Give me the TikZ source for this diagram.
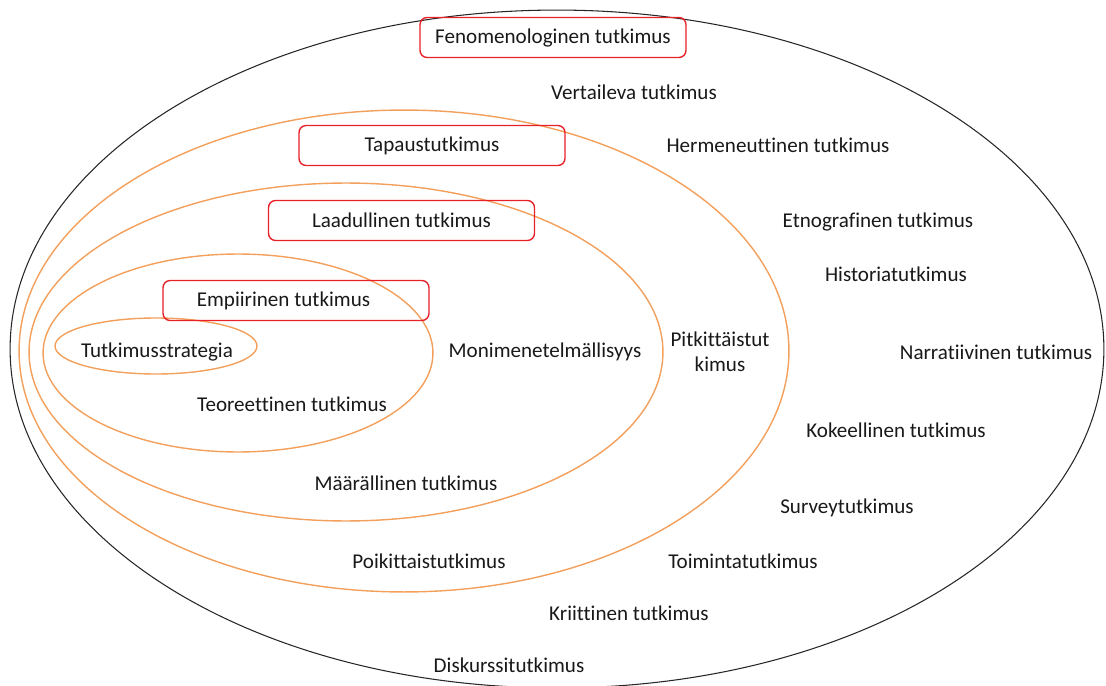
\documentclass[tikz,border=0pt]{standalone}
\usepackage{fontspec}
\setmainfont{Carlito}[Ligatures=NoCommon]
\definecolor{oranssi}{RGB}{243,160,92}
\definecolor{punainen}{RGB}{232,32,40}

\begin{document}
\begin{tikzpicture}[x=0.02cm,y=-0.02cm,
    every node/.style={font=\fontsize{12}{14}\selectfont, text=black!90},
    kaari/.style={draw=oranssi, line width=0.8pt},
    laatikko/.style={draw=punainen, line width=0.8pt, rounded corners=4pt,
        minimum width=5.32cm, minimum height=0.8cm}]
    \useasboundingbox (0,0) rectangle (1106,686);

    % ulompi ellipsi
    \draw[black!85, line width=0.6pt] (557,349) ellipse [x radius=10.94cm, y radius=6.78cm];

    % sisäkkäiset ellipsit
    \draw[kaari] (404,351) ellipse [x radius=7.70cm, y radius=4.82cm];
    \draw[kaari] (346,352) ellipse [x radius=6.34cm, y radius=3.38cm];
    \draw[kaari] (238,353) ellipse [x radius=3.90cm, y radius=1.98cm];
    \draw[kaari] (156,346) ellipse [x radius=2.02cm, y radius=0.56cm];

    % korostetut laatikot
    \node[laatikko] (fenom) at (553,37.5) {Fenomenologinen tutkimus};
    \node[laatikko] (tapaus) at (432,145.5) {Tapaustutkimus};
    \node[laatikko] (laadul) at (401.5,220.5) {Laadullinen tutkimus};
    \node[laatikko] (empiir) at (296,300.5) {\hspace*{-0.5cm}Empiirinen tutkimus};

    % muut tutkimustavat
    \node (vertail) at (634,92) {Vertaileva tutkimus};
    \node (hermen) at (778,145) {Hermeneuttinen tutkimus};
    \node (etnogr) at (878,222) {Etnografinen tutkimus};
    \node (histor) at (896,274) {Historiatutkimus};
    \node (strateg) at (157,352) {Tutkimusstrategia};
    \node (monimen) at (545,352) {Monimenetelmällisyys};
    \node[align=center, inner sep=0pt] (pitkit) at (720,352) {Pitkittäistut\\[0pt]kimus};
    \node (narrat) at (996,352) {Narratiivinen tutkimus};
    \node (teoreet) at (292,404) {Teoreettinen tutkimus};
    \node (kokeel) at (896,430) {Kokeellinen tutkimus};
    \node (maaral) at (406,483) {Määrällinen tutkimus};
    \node (survey) at (847,508) {Surveytutkimus};
    \node (poikit) at (429,561) {Poikittaistutkimus};
    \node (toimin) at (743,561) {Toimintatutkimus};
    \node (kriitt) at (629,613) {Kriittinen tutkimus};
    \node (diskur) at (509,665) {Diskurssitutkimus};
\end{tikzpicture}
\end{document}
